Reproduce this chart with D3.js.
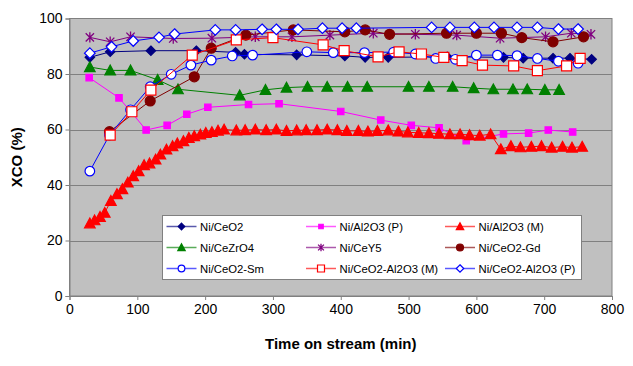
<!DOCTYPE html>
<html><head><meta charset="utf-8">
<script src="https://cdn.jsdelivr.net/npm/d3@7"></script>
<style>
body{margin:0;background:#fff}
text{font-family:"Liberation Sans",Arial,sans-serif}
</style>
</head><body>
<svg id="c" width="633" height="366"></svg>
<script>
// ---- data ----
const xTicks = [0,100,200,300,400,500,600,700,800];
const yTicks = [0,20,40,60,80,100];

const ceo2T = [30,60,120,187,245,258,335,406,436,470,557,640,669,713,738,770];
const ceo2V = [86,88,88.4,88.4,87.8,87.1,86.9,86.5,86,86,86.2,86,85.7,85.7,85.7,85.3];

const al2o3PT = [29,73,92,113,144,173,204,264,309,400,459,504,545,585,640,677,706,742];
const al2o3PV = [78.7,71.4,66,59.8,61.5,65.5,68,69,69.3,66.5,63.4,61.5,60.6,56,58.4,58.7,59.8,59.1];

const al2o3MT = [30,37,45,52,61,70,78,86,94,102,110,118,127,134,143,152,159,168,176,184,193,201,210,219,228,246,
  259,274,290,305,320,335,349,365,380,395,409,426,440,454,470,485,499,515,530,545,561,576,590,605,621,
  636,651,665,681,696,711,727,741,756];
const al2o3MV = [26.2,27.3,28.5,30,34.3,36.7,38.5,40.9,43.2,45,47.2,47.8,49.2,51,52.8,54,55,55.8,57,57.6,58.2,58.8,59.1,59.6,60,59.7,
  59.8,60,59.8,60,59.5,59.7,59.8,59.8,60,59.8,59.5,59.5,59.3,59.5,59.7,59.3,59,58.8,58.7,58.5,58.3,58.3,58,57.8,58.3,
  52.9,54,53.6,53.8,54,53.5,53.8,53.5,53.8];

const cezrT = [30,60,90,130,160,251,289,320,351,380,410,439,500,530,565,596,625,654,675,701,722];
const cezrV = [82.5,81.3,81.3,77.9,74.5,72.3,74.3,75.1,75.4,75.4,75.4,75.4,75.4,75.4,75.4,74.9,74.5,74.5,74.5,74.3,74.3];

const cey5T = [30,60,90,153,210,274,328,384,448,510,571,635,702,740,769];
const cey5V = [93.2,91.6,93.4,92.8,92.9,93.4,93.4,94,94.7,94.3,94,92.9,93.4,94.7,94.3];

const gdT = [59,119,184,209,260,330,406,436,472,556,600,637,667,713,758];
const gdV = [59.2,70.3,79,89.3,94,95.9,95.2,95.9,94.3,94.7,94.7,94.7,93.1,91.6,93.4];

const smT = [30,59,90,119,150,179,209,240,270,350,389,435,478,510,540,569,600,631,660,690,721,750];
const smV = [45,58,67.1,75.4,79.9,83.2,85,86.5,86.8,88,87.7,87.7,87.9,87.2,85.6,85.3,86.8,86.8,86.6,85.6,84.6,83.9];

const caMT = [60,92,120,181,246,300,374,405,455,486,519,552,579,609,655,690,733,753];
const caMV = [58,66.4,74.2,86.8,92.3,93.1,90.5,88.4,86.2,88,87.2,86,84.8,83.2,82.9,81.2,82.9,85.6];

const caPT = [30,62,94,132,155,215,245,284,305,337,373,402,423,534,561,597,626,660,690,721,750];
const caPV = [87.5,89.8,91.9,93.2,94.4,95.9,95.9,96.1,96.1,96.1,96.5,96.5,96.5,96.8,96.8,96.8,96.8,96.8,96.8,96.2,96.2];

const seriesNames = ["Ni/CeO2","Ni/Al2O3 (P)","Ni/Al2O3 (M)","Ni/CeZrO4","Ni/CeY5","Ni/CeO2-Gd","Ni/CeO2-Sm","Ni/CeO2-Al2O3 (M)","Ni/CeO2-Al2O3 (P)"];
const seriesTimes = [ceo2T,al2o3PT,al2o3MT,cezrT,cey5T,gdT,smT,caMT,caPT];
const seriesVals = [ceo2V,al2o3PV,al2o3MV,cezrV,cey5V,gdV,smV,caMV,caPV];

// ---- styles ----
const styles = [
  {line:"#000080", marker:"diamond", r:4.7, stroke:"#000080", fill:"#000080", lw:1},
  {line:"#FF00FF", marker:"square", r:3.2, stroke:"#FF00FF", fill:"#FF00FF", lw:1},
  {line:"#FF0000", marker:"triangle", r:5.3, stroke:"#FF0000", fill:"#FF0000", lw:1},
  {line:"#008000", marker:"triangle", r:5.3, stroke:"#008000", fill:"#008000", lw:1},
  {line:"#800080", marker:"star", r:5.2, stroke:"#800080", fill:"none", lw:1},
  {line:"#800000", marker:"circle", r:5, stroke:"#800000", fill:"#800000", lw:1},
  {line:"#0000FF", marker:"circle", r:4.8, stroke:"#0000FF", fill:"#FFFFFF", lw:1},
  {line:"#FF0000", marker:"square", r:5, stroke:"#FF0000", fill:"#FFFFFF", lw:1},
  {line:"#0000FF", marker:"diamond", r:5.3, stroke:"#0000FF", fill:"#FFFFFF", lw:1}
];

const L = 69.5, R = 612, T = 18.5, B = 296;
const svg = d3.select("#c");
const x = d3.scaleLinear().domain([0,800]).range([L,R]);
const y = d3.scaleLinear().domain([0,100]).range([B,T]);

// plot background
svg.append("rect").attr("x",L).attr("y",T).attr("width",R-L).attr("height",B-T)
  .attr("fill","#C0C0C0").attr("stroke","#808080").attr("stroke-width",1);

// gridlines
svg.append("g").selectAll("line").data(yTicks.filter(d=>d>0 && d<100)).join("line")
  .attr("x1",L).attr("x2",R).attr("y1",d=>Math.round(y(d))+0.5).attr("y2",d=>Math.round(y(d))+0.5)
  .attr("stroke","#808080").attr("stroke-width",1);

// axes
const xa = svg.append("g").attr("transform",`translate(0,${B})`)
  .call(d3.axisBottom(x).tickValues(xTicks).tickSize(4).tickPadding(4).tickFormat(d3.format("d")));
const ya = svg.append("g").attr("transform",`translate(${L},0)`)
  .call(d3.axisLeft(y).tickValues(yTicks).tickSize(4).tickPadding(3).tickFormat(d3.format("d")));
[xa,ya].forEach(a=>{
  a.select(".domain").attr("stroke","#808080");
  a.selectAll(".tick line").attr("stroke","#808080");
  a.selectAll(".tick text").attr("fill","#000").style("font-size","14px").style("font-family",'"Liberation Sans",Arial,sans-serif');
});

// axis titles
svg.append("text").attr("x",(L+R)/2).attr("y",349).attr("text-anchor","middle")
  .style("font-size","15px").style("font-weight","bold").text("Time on stream (min)");
svg.append("text").attr("transform",`translate(22,${(T+B)/2}) rotate(-90)`).attr("text-anchor","middle")
  .style("font-size","15px").style("font-weight","bold").text("XCO (%)");

function markerPath(type, r){
  if(type==="diamond") return `M0,${-r}L${r},0L0,${r}L${-r},0Z`;
  if(type==="square") return `M${-r},${-r}H${r}V${r}H${-r}Z`;
  if(type==="triangle") return `M0,${-r}L${r},${r*0.85}L${-r},${r*0.85}Z`;
  if(type==="star"){ const d=r*0.8; return `M0,${-r}V${r}M${-d},${-d}L${d},${d}M${-d},${d}L${d},${-d}`; }
  return null;
}
function drawMarkers(g, pts, st, scaleR){
  const r = st.r*(scaleR||1);
  if(st.marker==="circle"){
    g.selectAll("circle").data(pts).join("circle")
      .attr("cx",d=>d[0]).attr("cy",d=>d[1]).attr("r",r)
      .attr("fill",st.fill).attr("stroke",st.stroke).attr("stroke-width",1.2);
  } else {
    g.selectAll("path").data(pts).join("path")
      .attr("d",markerPath(st.marker,r)).attr("transform",d=>`translate(${d[0]},${d[1]})`)
      .attr("fill",st.fill).attr("stroke",st.stroke).attr("stroke-width",st.marker==="star"?1.3:1.2);
  }
}

const line = d3.line();
const plot = svg.append("g");
seriesNames.forEach((name,i)=>{
  const st = styles[i];
  const pts = seriesTimes[i].map((t,j)=>[x(t), y(seriesVals[i][j])]);
  const g = plot.append("g");
  g.append("path").attr("d",line(pts)).attr("fill","none").attr("stroke",st.line).attr("stroke-width",st.lw);
  drawMarkers(g.append("g"), pts, st);
});

// legend
const lg = svg.append("g");
lg.append("rect").attr("x",162.5).attr("y",215.5).attr("width",419).attr("height",64)
  .attr("fill","#fff").attr("stroke","#808080").attr("stroke-width",1);
const colX = [166.5,306,445];
const rowY = [226.5,247.5,268.5];
seriesNames.forEach((name,i)=>{
  const cx = colX[i%3], cy = rowY[Math.floor(i/3)];
  const st = styles[i];
  const g = lg.append("g");
  g.append("line").attr("x1",cx).attr("x2",cx+30).attr("y1",cy).attr("y2",cy)
    .attr("stroke",st.line).attr("stroke-width",1.5).attr("stroke-opacity",0.65);
  drawMarkers(g.append("g"), [[cx+15,cy]], st, 0.7);
  g.append("text").attr("x",cx+33.5).attr("y",cy+4.5).style("font-size","11.3px").text(name);
});
</script>
</body></html>
